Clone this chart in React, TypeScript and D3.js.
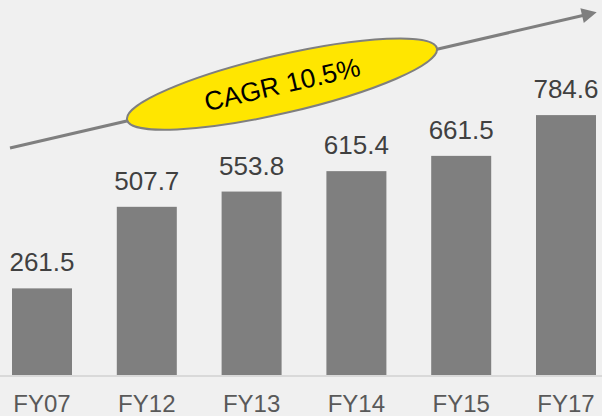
import React, { useEffect, useRef } from 'react';
import * as d3 from 'd3';

const categories = ['FY07', 'FY12', 'FY13', 'FY14', 'FY15', 'FY17'];
const values = [261.5, 507.7, 553.8, 615.4, 661.5, 784.6];
const cagrLabel = 'CAGR 10.5%';

const width = 602;
const height = 416;

export default function App() {
  const ref = useRef<SVGSVGElement | null>(null);

  useEffect(() => {
    const svg = d3.select(ref.current);
    svg.selectAll('*').remove();

    svg.append('rect')
      .attr('width', width)
      .attr('height', height)
      .attr('fill', '#f0f0f0');

    const x = d3.scaleBand<string>()
      .domain(categories)
      .range([12, 596])
      .paddingInner(0.4275)
      .paddingOuter(0);

    const y = d3.scaleLinear()
      .domain([0, 800])
      .range([375, 110]);

    // bars
    svg.append('g')
      .selectAll('rect')
      .data(values)
      .join('rect')
      .attr('x', (d, i) => x(categories[i]) as number)
      .attr('y', d => y(d))
      .attr('width', x.bandwidth())
      .attr('height', d => y(0) - y(d))
      .attr('fill', '#7f7f7f');

    // baseline
    svg.append('line')
      .attr('x1', 0)
      .attr('x2', width)
      .attr('y1', y(0) + 1)
      .attr('y2', y(0) + 1)
      .attr('stroke', '#d9d9d9')
      .attr('stroke-width', 2);

    // value labels
    svg.append('g')
      .selectAll('text')
      .data(values)
      .join('text')
      .attr('x', (d, i) => (x(categories[i]) as number) + x.bandwidth() / 2)
      .attr('y', d => y(d) - 17)
      .attr('text-anchor', 'middle')
      .attr('font-family', 'Liberation Sans, Arial, sans-serif')
      .attr('font-size', 26)
      .attr('fill', '#404040')
      .text(d => d.toFixed(1));

    // category labels
    svg.append('g')
      .selectAll('text')
      .data(categories)
      .join('text')
      .attr('x', d => (x(d) as number) + x.bandwidth() / 2)
      .attr('y', 412)
      .attr('text-anchor', 'middle')
      .attr('font-family', 'Liberation Sans, Arial, sans-serif')
      .attr('font-size', 24)
      .attr('fill', '#595959')
      .text(d => d);

    // growth arrow
    svg.append('defs')
      .append('marker')
      .attr('id', 'arrowHead')
      .attr('viewBox', '0 0 10 10')
      .attr('refX', 2)
      .attr('refY', 5)
      .attr('markerWidth', 6)
      .attr('markerHeight', 5)
      .attr('markerUnits', 'strokeWidth')
      .attr('orient', 'auto')
      .append('path')
      .attr('d', 'M0,0 L10,5 L0,10 Z')
      .attr('fill', '#7f7f7f');

    const x0 = 10, y0 = 148, x1 = 585, y1 = 15;
    svg.append('line')
      .attr('x1', x0)
      .attr('y1', y0)
      .attr('x2', x1)
      .attr('y2', y1)
      .attr('stroke', '#7f7f7f')
      .attr('stroke-width', 3)
      .attr('marker-end', 'url(#arrowHead)');

    // CAGR ellipse
    const angle = Math.atan2(y1 - y0, x1 - x0) * 180 / Math.PI;
    const cx = 282;
    const cy = y0 + (cx - x0) * (y1 - y0) / (x1 - x0) - 1;
    const badge = svg.append('g')
      .attr('transform', `translate(${cx},${cy}) rotate(${angle})`);
    badge.append('ellipse')
      .attr('rx', 159)
      .attr('ry', 29)
      .attr('fill', '#ffe600')
      .attr('stroke', '#7f7f7f')
      .attr('stroke-width', 2);
    badge.append('text')
      .attr('x', 0)
      .attr('y', 9.5)
      .attr('text-anchor', 'middle')
      .attr('font-family', 'Liberation Sans, Arial, sans-serif')
      .attr('font-size', 26.5)
      .attr('fill', '#000')
      .text(cagrLabel);
  }, []);

  return (
    <svg
      ref={ref}
      width={width}
      height={height}
      style={{ position: 'absolute', left: 0, top: 0, display: 'block' }}
    />
  );
}
